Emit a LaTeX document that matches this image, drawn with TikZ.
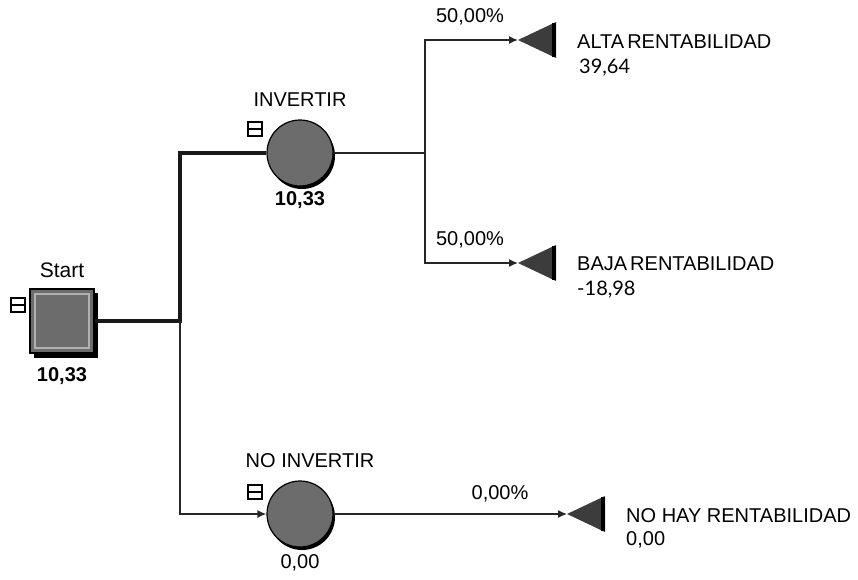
\documentclass[tikz,border=0pt]{standalone}
\usepackage{fontspec}
\setmainfont{Liberation Sans}
\newfontfamily\numfont{Lato}
\usetikzlibrary{arrows.meta}
\definecolor{nodegray}{HTML}{6C6C6C}
\definecolor{trigray}{HTML}{3C3C3C}
\definecolor{rimgray}{HTML}{B0B0B0}
\begin{document}
\begin{tikzpicture}[x=1pt,y=-1pt,
  font=\fontsize{20}{24}\selectfont,
  thinln/.style={line width=1.4pt, draw=black!85},
  thickln/.style={line width=4pt, draw=black!90},
  arr/.style={-{Latex[length=9pt,width=8pt]}},
  chance/.style={circle, draw=black, line width=1.2pt, fill=nodegray, minimum size=66pt, inner sep=0pt},
  decision/.style={rectangle, draw=black, line width=2pt, fill=nodegray, minimum size=64pt, inner sep=0pt},
  minusbox/.style={rectangle, draw=black, line width=1.1pt, fill=white, minimum width=14pt, minimum height=14pt, inner sep=0pt,
     path picture={\draw[line width=1.1pt] (path picture bounding box.west) -- (path picture bounding box.east);}},
  lbl/.style={inner sep=0pt},
  lblw/.style={inner sep=0pt, anchor=west}
]
\useasboundingbox (0,0) rectangle (858,579);

% Start decision node
\fill[black] (34,293) rectangle (98,358);
\node[decision] (start) at (62,321) {};
\draw[rimgray, line width=1.2pt] (35,294) rectangle (89,348);
\node[minusbox] (m0) at (18,305) {};
\node[lbl, font=\fontsize{21}{24}\selectfont] (startlbl) at (62,270) {Start};
\node[lbl, font=\fontsize{20}{24}\selectfont\bfseries] (startval) at (62,376) {10,33};

% Chance nodes
\fill[black] (302,156) circle (33);
\node[chance] (inv) at (300,153) {};
\node[minusbox] (m1) at (255,129) {};
\node[lbl] (invlbl) at (300,100) {INVERTIR};
\node[lbl, font=\fontsize{20}{24}\selectfont\bfseries] (invval) at (300,200) {10,33};

\fill[black] (302,517) circle (33);
\node[chance] (noinv) at (300,514) {};
\node[minusbox] (m2) at (255,492) {};
\node[lbl] (noinvlbl) at (310,461) {NO INVERTIR};
\node[lbl] (noinvval) at (300,563) {0,00};

% junctions and terminal tips
\coordinate (j1) at (180,321);
\coordinate (j2) at (425,153);
\coordinate (t1) at (518,40);
\coordinate (t2) at (518,263);
\coordinate (t3) at (567,514);

% connectors
\draw[thickln, line join=miter] (start.east) -- (j1) |- (inv.west);
\draw[thinln, arr] (j1) |- (noinv.west);
\draw[thinln] (inv.east) -- (j2);
\draw[thinln, arr] (j2) |- (t1);
\draw[thinln, arr] (j2) |- (t2);
\draw[thinln, arr] (noinv.east) -- (t3);

% terminal triangles
\foreach \t in {t1,t2,t3}{
  \fill[trigray] (\t) -- ++(38,-18) -- ++(0,36) -- cycle;
  \draw[black, line width=4pt] (\t) ++(36,-17) -- ++(0,34);
}

% probabilities
\node[lbl] (p1) at (470,17) {50,00\%};
\node[lbl] (p2) at (470,240) {50,00\%};
\node[lbl] (p3) at (500,494) {0,00\%};

% outcome labels
\node[lblw] (o1) at (577,42) {ALTA\hspace{3pt}RENTABILIDAD};
\node[lblw, font=\numfont\fontsize{20}{24}\selectfont] (v1) at (579,68) {39,64};
\node[lblw] (o2) at (577,264) {BAJA\hspace{3pt}RENTABILIDAD};
\node[lblw, font=\numfont\fontsize{20}{24}\selectfont] (v2) at (577,290) {-18,98};
\node[lblw] (o3) at (626,516) {NO HAY RENTABILIDAD};
\node[lblw] (v3) at (626,540) {0,00};
\end{tikzpicture}
\end{document}
